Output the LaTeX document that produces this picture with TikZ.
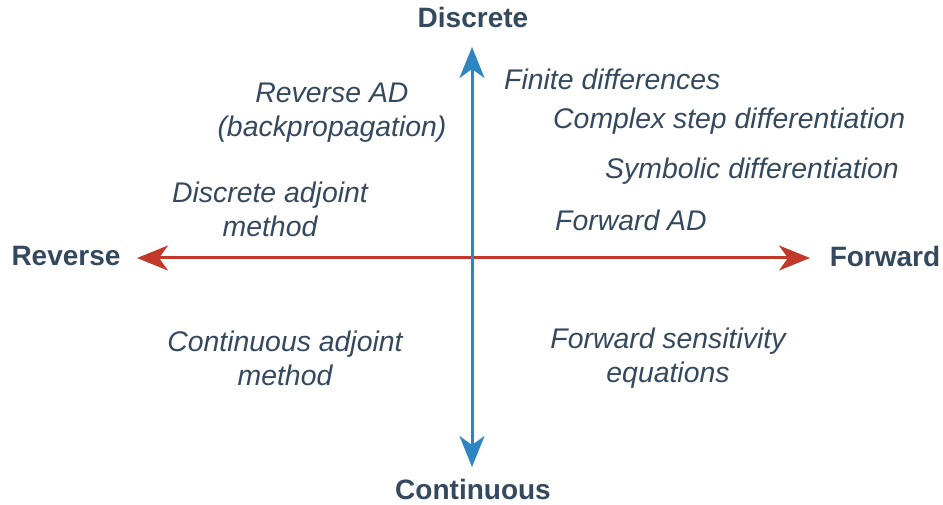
\documentclass[tikz,border=0pt]{standalone}
\usepackage{fontspec}
\setmainfont{Liberation Sans}
\usetikzlibrary{arrows.meta}
\definecolor{txt}{HTML}{34495E}
\definecolor{axblue}{HTML}{2E86C1}
\definecolor{axred}{HTML}{C0392B}
\tikzset{
  axislabel/.style={font=\fontsize{28}{34}\selectfont\bfseries, text=txt, inner sep=0pt},
  method/.style={font=\fontsize{28.4}{34}\selectfont\itshape, text=txt, inner sep=0pt, align=center},
  methodl/.style={method, anchor=west},
  axis/.style={line width=3pt, -{Stealth[length=31pt,width=25pt,inset=9pt]}}
}
\begin{document}
\begin{tikzpicture}[x=1pt,y=-1pt]
\useasboundingbox (0,0) rectangle (943,505);
\node[axislabel] (disc) at (473,17) {Discrete};
\node[axislabel] (cont) at (473,489) {Continuous};
\node[axislabel] (rev) at (66,256) {Reverse};
\node[axislabel] (fwd) at (885,256) {Forward};
\coordinate (top) at (472,47);
\coordinate (bot) at (472,467);
\coordinate (left) at (137,258);
\coordinate (right) at (810,258);
\coordinate (ctr) at (472,258);
\draw[axis, axred] (ctr) -- (left);
\draw[axis, axred] (ctr) -- (right);
\draw[axis, axblue] (ctr) -- (top);
\draw[axis, axblue] (ctr) -- (bot);
\node[method] (revad) at (332,113) {Reverse AD\\(backpropagation)};
\node[method] (dadj) at (270,209) {Discrete adjoint\\method};
\node[method] (cadj) at (285,358) {Continuous adjoint\\method};
\node[method] (fsens) at (668,358) {Forward sensitivity\\equations};
\node[methodl] (fd) at (504,79) {Finite differences};
\node[methodl] (cs) at (553,121) {Complex step differentiation};
\node[methodl] (sym) at (605,171) {Symbolic differentiation};
\node[methodl] (fad) at (555,220) {Forward AD};
\end{tikzpicture}
\end{document}
